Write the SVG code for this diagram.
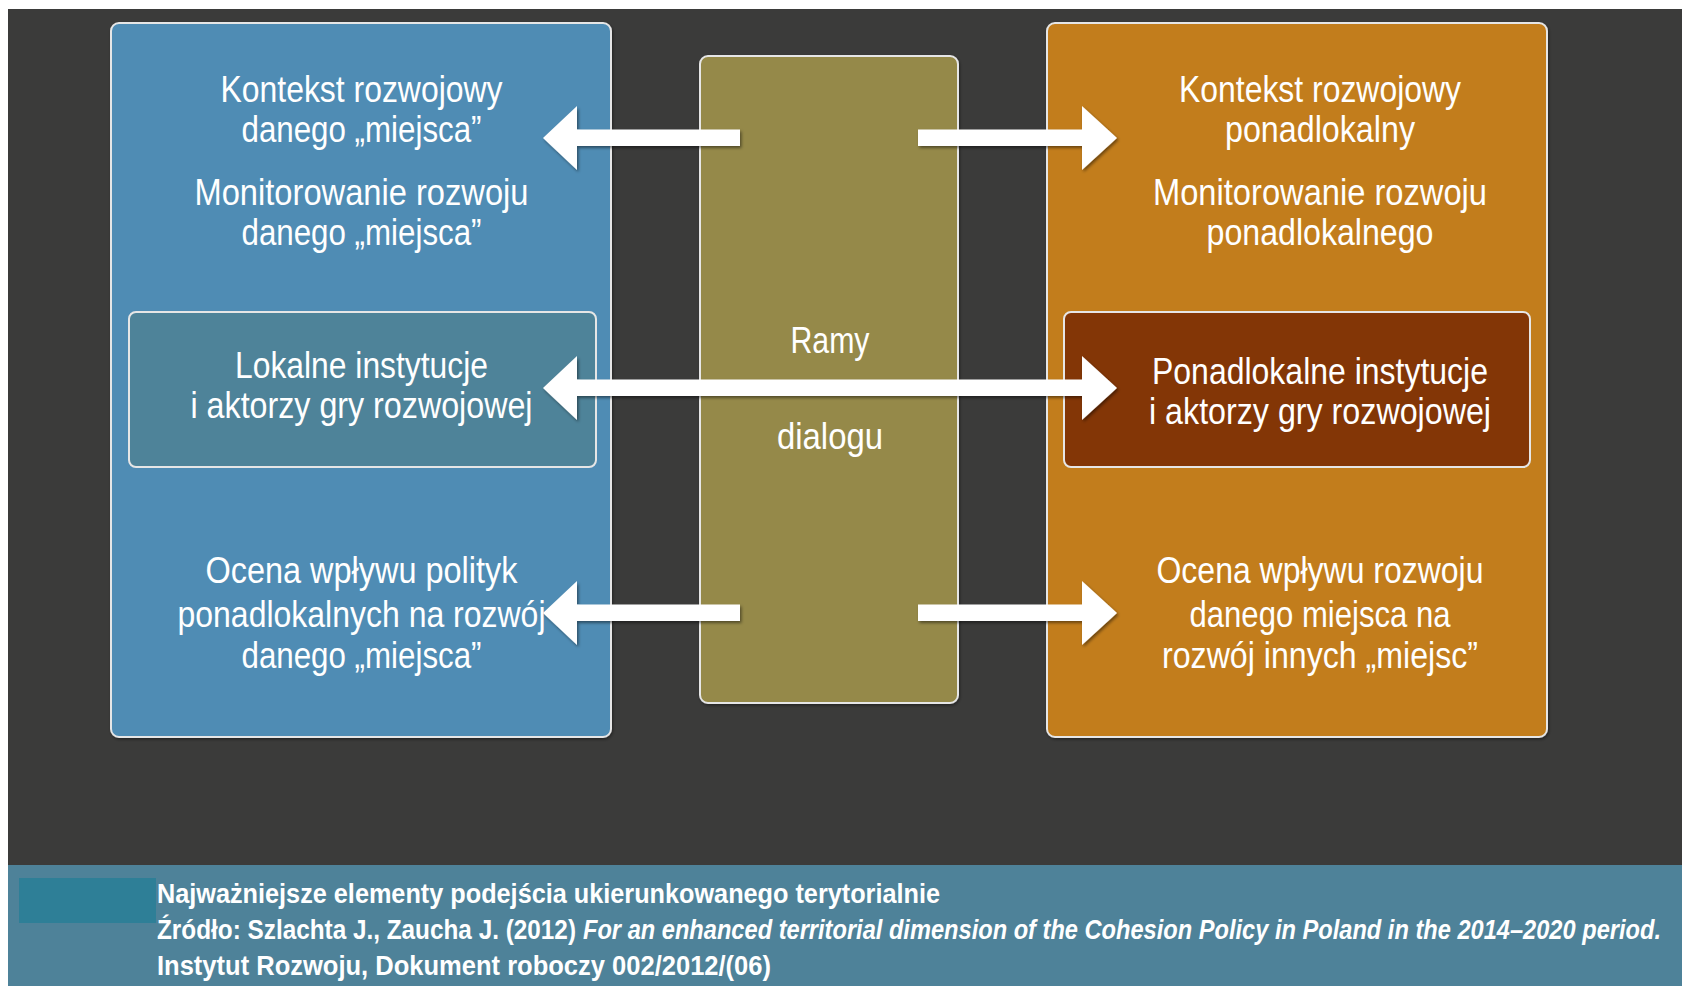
<svg xmlns="http://www.w3.org/2000/svg" width="1682" height="986" viewBox="0 0 1682 986">
<defs>
<filter id="sh" x="-10%" y="-10%" width="130%" height="130%">
<feDropShadow dx="1.5" dy="2" stdDeviation="1.5" flood-color="#000" flood-opacity="0.45"/>
</filter>
<filter id="psh" x="-5%" y="-5%" width="110%" height="110%">
<feDropShadow dx="1" dy="1.5" stdDeviation="1.5" flood-color="#000" flood-opacity="0.4"/>
</filter>
<style>
.t{font-family:"Liberation Sans","DejaVu Sans",sans-serif;font-size:37px;fill:#ffffff;text-anchor:middle}
.c{font-family:"Liberation Sans","DejaVu Sans",sans-serif;font-size:27px;font-weight:bold;fill:#ffffff}
.ci{font-style:italic}
.panel{stroke:#e6e6e6;stroke-width:2}
.arrow{fill:#ffffff;filter:url(#sh)}
</style>
</defs>
<rect x="0" y="0" width="1682" height="986" fill="#ffffff"/>
<rect x="8" y="9" width="1674" height="977" fill="#3b3b3a"/>

<g id="panel-local">
<rect class="panel" x="111" y="23" width="500" height="714" rx="8" fill="#4f8cb4" filter="url(#psh)"/>
<text class="t" x="361.5" y="101.5" textLength="282" lengthAdjust="spacingAndGlyphs">Kontekst rozwojowy</text>
<text class="t" x="361.5" y="141.5" textLength="240" lengthAdjust="spacingAndGlyphs">danego „miejsca”</text>
<text class="t" x="361.5" y="205" textLength="334" lengthAdjust="spacingAndGlyphs">Monitorowanie rozwoju</text>
<text class="t" x="361.5" y="245" textLength="240" lengthAdjust="spacingAndGlyphs">danego „miejsca”</text>
</g>
<g id="local-institutions">
<rect class="panel" x="129" y="312" width="467" height="155" rx="7" fill="#4e8399" stroke-width="1.5"/>
<text class="t" x="361.5" y="378" textLength="253" lengthAdjust="spacingAndGlyphs">Lokalne instytucje</text>
<text class="t" x="361.5" y="418" textLength="342" lengthAdjust="spacingAndGlyphs">i aktorzy gry rozwojowej</text>
</g>
<g id="local-assessment">
<text class="t" x="361.5" y="583" textLength="312" lengthAdjust="spacingAndGlyphs">Ocena wpływu polityk</text>
<text class="t" x="361.5" y="626.5" textLength="368" lengthAdjust="spacingAndGlyphs">ponadlokalnych na rozwój</text>
<text class="t" x="361.5" y="668" textLength="240" lengthAdjust="spacingAndGlyphs">danego „miejsca”</text>
</g>

<g id="panel-dialog">
<rect class="panel" x="700" y="56" width="258" height="647" rx="8" fill="#958948" filter="url(#psh)"/>
<text class="t" x="830" y="353" textLength="79" lengthAdjust="spacingAndGlyphs">Ramy</text>
<text class="t" x="830" y="449" textLength="106" lengthAdjust="spacingAndGlyphs">dialogu</text>
</g>

<g id="panel-supralocal">
<rect class="panel" x="1047" y="23" width="500" height="714" rx="8" fill="#c27d1b" filter="url(#psh)"/>
<text class="t" x="1320" y="101.5" textLength="282" lengthAdjust="spacingAndGlyphs">Kontekst rozwojowy</text>
<text class="t" x="1320" y="141.5" textLength="190" lengthAdjust="spacingAndGlyphs">ponadlokalny</text>
<text class="t" x="1320" y="205" textLength="334" lengthAdjust="spacingAndGlyphs">Monitorowanie rozwoju</text>
<text class="t" x="1320" y="245" textLength="227" lengthAdjust="spacingAndGlyphs">ponadlokalnego</text>
</g>
<g id="supralocal-institutions">
<rect class="panel" x="1064" y="312" width="466" height="155" rx="7" fill="#833606" stroke-width="1.5"/>
<text class="t" x="1320" y="384" textLength="336" lengthAdjust="spacingAndGlyphs">Ponadlokalne instytucje</text>
<text class="t" x="1320" y="424" textLength="342" lengthAdjust="spacingAndGlyphs">i aktorzy gry rozwojowej</text>
</g>
<g id="supralocal-assessment">
<text class="t" x="1320" y="583" textLength="327" lengthAdjust="spacingAndGlyphs">Ocena wpływu rozwoju</text>
<text class="t" x="1320" y="626.5" textLength="261" lengthAdjust="spacingAndGlyphs">danego miejsca na</text>
<text class="t" x="1320" y="668" textLength="316" lengthAdjust="spacingAndGlyphs">rozwój innych „miejsc”</text>
</g>

<g id="connectors">
<polygon class="arrow" points="543,138 577,106 577,129.5 740,129.5 740,146 577,146 577,170"/>
<polygon class="arrow" points="1117,138 1082,106 1082,129.5 918,129.5 918,146 1082,146 1082,170"/>
<polygon class="arrow" points="543,388 577,356 577,379.5 1082,379.5 1082,356 1117,388 1082,420 1082,396 577,396 577,420"/>
<polygon class="arrow" points="543,613 577,581 577,604.5 740,604.5 740,621 577,621 577,645"/>
<polygon class="arrow" points="1117,613 1082,581 1082,604.5 918,604.5 918,621 1082,621 1082,645"/>
</g>

<g id="caption">
<rect x="8" y="865" width="1674" height="121" fill="#4e8299"/>
<rect x="19" y="878" width="137" height="45" fill="#2e7f97"/>
<text class="c" x="157" y="903" textLength="783" lengthAdjust="spacingAndGlyphs">Najważniejsze elementy podejścia ukierunkowanego terytorialnie</text>
<text class="c" x="157" y="938.5" textLength="419" lengthAdjust="spacingAndGlyphs">Źródło: Szlachta J., Zaucha J. (2012)</text>
<text class="c ci" x="583" y="938.5" textLength="1078" lengthAdjust="spacingAndGlyphs">For an enhanced territorial dimension of the Cohesion Policy in Poland in the 2014–2020 period.</text>
<text class="c" x="157" y="975" textLength="614" lengthAdjust="spacingAndGlyphs">Instytut Rozwoju, Dokument roboczy 002/2012/(06)</text>
</g>
</svg>
